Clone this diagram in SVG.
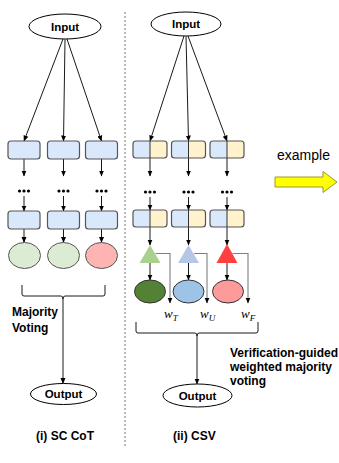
<svg xmlns="http://www.w3.org/2000/svg" width="339" height="463" viewBox="0 0 339 463">
<defs>
<marker id="ah" markerWidth="6" markerHeight="6" refX="5.5" refY="3" orient="auto" markerUnits="userSpaceOnUse">
<path d="M0,0.5 L6,3 L0,5.5 z" fill="#000"/>
</marker>
</defs>
<style>
.t{font-family:"Liberation Sans",Arial,sans-serif;font-weight:bold;font-size:11.5px;fill:#000}
.t2{font-size:12px}
.n{fill:#fff;stroke:#000;stroke-width:1}
.bx{fill:#dae8fc;stroke:#555;stroke-width:1.2}
.yh{fill:#fff2cc}
.c{fill:none;stroke:#000;stroke-width:0.9}
.g{fill:none;stroke:#7f7f7f;stroke-width:1.1}
.w{font-family:"Liberation Serif","Times New Roman",serif;font-style:italic;font-size:13px}
.s{font-size:9px}
</style>
<rect width="339" height="463" fill="#fff"/>
<line x1="125" y1="12" x2="125" y2="446" stroke="#666" stroke-width="0.9" stroke-dasharray="2,2"/>

<g id="connectors">
<line class="c" x1="63" y1="39" x2="24" y2="141" marker-end="url(#ah)"/>
<line class="c" x1="65" y1="39.5" x2="63.5" y2="141" marker-end="url(#ah)"/>
<line class="c" x1="67" y1="39" x2="101.5" y2="141" marker-end="url(#ah)"/>
<line class="c" x1="24" y1="159" x2="24" y2="176" marker-end="url(#ah)"/>
<line class="c" x1="63.5" y1="159" x2="63.5" y2="176" marker-end="url(#ah)"/>
<line class="c" x1="101.5" y1="159" x2="101.5" y2="176" marker-end="url(#ah)"/>
<line class="c" x1="24" y1="196" x2="24" y2="211" marker-end="url(#ah)"/>
<line class="c" x1="63.5" y1="196" x2="63.5" y2="211" marker-end="url(#ah)"/>
<line class="c" x1="101.5" y1="196" x2="101.5" y2="211" marker-end="url(#ah)"/>
<line class="c" x1="24" y1="229" x2="24" y2="242.5" marker-end="url(#ah)"/>
<line class="c" x1="63.5" y1="229" x2="63.5" y2="242.5" marker-end="url(#ah)"/>
<line class="c" x1="101.5" y1="229" x2="101.5" y2="242.5" marker-end="url(#ah)"/>
<path class="c" d="M22,285 L22,294 Q22,296 24,296 L61,296 Q63,296 63,299 Q63,296 65,296 L103,296 Q105,296 105,294 L105,285"/>
<line class="c" x1="63" y1="299" x2="63" y2="383.5" marker-end="url(#ah)"/>

<line class="c" x1="184" y1="36" x2="150" y2="141" marker-end="url(#ah)"/>
<line class="c" x1="186" y1="36.5" x2="188.5" y2="141" marker-end="url(#ah)"/>
<line class="c" x1="188" y1="36" x2="227" y2="141" marker-end="url(#ah)"/>
<line class="c" x1="150" y1="158" x2="150" y2="176" marker-end="url(#ah)"/>
<line class="c" x1="188.5" y1="158" x2="188.5" y2="176" marker-end="url(#ah)"/>
<line class="c" x1="227" y1="158" x2="227" y2="176" marker-end="url(#ah)"/>
<line class="c" x1="150" y1="197" x2="150" y2="210" marker-end="url(#ah)"/>
<line class="c" x1="188.5" y1="197" x2="188.5" y2="210" marker-end="url(#ah)"/>
<line class="c" x1="227" y1="197" x2="227" y2="210" marker-end="url(#ah)"/>
<line class="c" x1="150" y1="227" x2="150" y2="245" marker-end="url(#ah)"/>
<line class="c" x1="188.5" y1="227" x2="188.5" y2="245" marker-end="url(#ah)"/>
<line class="c" x1="227" y1="227" x2="227" y2="245" marker-end="url(#ah)"/>
<line class="c" x1="150" y1="263" x2="150" y2="280" marker-end="url(#ah)"/>
<line class="c" x1="188.5" y1="263" x2="188.5" y2="280" marker-end="url(#ah)"/>
<line class="c" x1="227" y1="263" x2="227" y2="280" marker-end="url(#ah)"/>
<path class="g" d="M155.5,253.5 L170,253.5 L170,303" marker-end="url(#ah)"/>
<path class="g" d="M194,253.5 L207,253.5 L207,303" marker-end="url(#ah)"/>
<path class="g" d="M232.5,253.5 L248,253.5 L248,303" marker-end="url(#ah)"/>
<path class="c" d="M136,322 L136,331 Q136,333 138,333 L195,333 Q197,333 197,336 Q197,333 199,333 L256,333 Q258,333 258,331 L258,322"/>
<line class="c" x1="197" y1="336" x2="197" y2="384" marker-end="url(#ah)"/>
</g>

<g id="input-left"><ellipse class="n" cx="65" cy="26.5" rx="36" ry="12.5"/><text class="t" x="65" y="30.5" text-anchor="middle">Input</text></g>
<g id="input-right"><ellipse class="n" cx="186" cy="24" rx="35" ry="12"/><text class="t" x="186" y="28" text-anchor="middle">Input</text></g>

<g id="l-box1a"><rect class="bx" x="8" y="141" width="32" height="18" rx="3"/></g>
<g id="l-box2a"><rect class="bx" x="47.5" y="141" width="32" height="18" rx="3"/></g>
<g id="l-box3a"><rect class="bx" x="85.5" y="141" width="32" height="18" rx="3"/></g>
<g id="l-dots" fill="#000">
<circle cx="19.5" cy="191" r="1.6"/><circle cx="24" cy="191" r="1.6"/><circle cx="28.5" cy="191" r="1.6"/>
<circle cx="59" cy="191" r="1.6"/><circle cx="63.5" cy="191" r="1.6"/><circle cx="68" cy="191" r="1.6"/>
<circle cx="97" cy="191" r="1.6"/><circle cx="101.5" cy="191" r="1.6"/><circle cx="106" cy="191" r="1.6"/>
</g>
<g id="l-box1b"><rect class="bx" x="8" y="211" width="32" height="18" rx="3"/></g>
<g id="l-box2b"><rect class="bx" x="47.5" y="211" width="32" height="18" rx="3"/></g>
<g id="l-box3b"><rect class="bx" x="85.5" y="211" width="32" height="18" rx="3"/></g>
<g id="l-ans1"><ellipse cx="24.5" cy="255.5" rx="16" ry="13" fill="#dcebd3" stroke="#555" stroke-width="1"/></g>
<g id="l-ans2"><ellipse cx="63.5" cy="255.5" rx="16" ry="13" fill="#dcebd3" stroke="#555" stroke-width="1"/></g>
<g id="l-ans3"><ellipse cx="101.5" cy="255.5" rx="16" ry="13" fill="#ffb4b4" stroke="#555" stroke-width="1"/></g>

<g id="r-box1a"><rect x="133" y="141" width="17" height="17" class="bx" style="stroke:none"/><rect x="150" y="141" width="17" height="17" class="yh"/><rect x="133" y="141" width="34" height="17" rx="3" fill="none" stroke="#555" stroke-width="1.2"/><line x1="150" y1="141" x2="150" y2="158" stroke="#333" stroke-width="1"/></g>
<g id="r-box2a"><rect x="171.5" y="141" width="17" height="17" class="bx" style="stroke:none"/><rect x="188.5" y="141" width="17" height="17" class="yh"/><rect x="171.5" y="141" width="34" height="17" rx="3" fill="none" stroke="#555" stroke-width="1.2"/><line x1="188.5" y1="141" x2="188.5" y2="158" stroke="#333" stroke-width="1"/></g>
<g id="r-box3a"><rect x="210" y="141" width="17" height="17" class="bx" style="stroke:none"/><rect x="227" y="141" width="17" height="17" class="yh"/><rect x="210" y="141" width="34" height="17" rx="3" fill="none" stroke="#555" stroke-width="1.2"/><line x1="227" y1="141" x2="227" y2="158" stroke="#333" stroke-width="1"/></g>
<g id="r-dots" fill="#000">
<circle cx="145.5" cy="192" r="1.6"/><circle cx="150" cy="192" r="1.6"/><circle cx="154.5" cy="192" r="1.6"/>
<circle cx="184" cy="192" r="1.6"/><circle cx="188.5" cy="192" r="1.6"/><circle cx="193" cy="192" r="1.6"/>
<circle cx="222.5" cy="192" r="1.6"/><circle cx="227" cy="192" r="1.6"/><circle cx="231.5" cy="192" r="1.6"/>
</g>
<g id="r-box1b"><rect x="133" y="210" width="17" height="17" class="bx" style="stroke:none"/><rect x="150" y="210" width="17" height="17" class="yh"/><rect x="133" y="210" width="34" height="17" rx="3" fill="none" stroke="#555" stroke-width="1.2"/><line x1="150" y1="210" x2="150" y2="227" stroke="#333" stroke-width="1"/></g>
<g id="r-box2b"><rect x="171.5" y="210" width="17" height="17" class="bx" style="stroke:none"/><rect x="188.5" y="210" width="17" height="17" class="yh"/><rect x="171.5" y="210" width="34" height="17" rx="3" fill="none" stroke="#555" stroke-width="1.2"/><line x1="188.5" y1="210" x2="188.5" y2="227" stroke="#333" stroke-width="1"/></g>
<g id="r-box3b"><rect x="210" y="210" width="17" height="17" class="bx" style="stroke:none"/><rect x="227" y="210" width="17" height="17" class="yh"/><rect x="210" y="210" width="34" height="17" rx="3" fill="none" stroke="#555" stroke-width="1.2"/><line x1="227" y1="210" x2="227" y2="227" stroke="#333" stroke-width="1"/></g>

<g id="r-ver1"><polygon points="150,245 139.5,263 160.5,263" fill="#a9d18e"/></g>
<g id="r-ver2"><polygon points="188.5,245 178,263 199,263" fill="#b4c7e7"/></g>
<g id="r-ver3"><polygon points="227,244 216.5,263 237.5,263" fill="#ff4040"/></g>
<g id="r-ans1"><ellipse cx="150" cy="291.5" rx="15.5" ry="11.5" fill="#548235" stroke="#333" stroke-width="1"/></g>
<g id="r-ans2"><ellipse cx="188.5" cy="291.5" rx="15.5" ry="11.5" fill="#9dc3e6" stroke="#333" stroke-width="1"/></g>
<g id="r-ans3"><ellipse cx="228" cy="291.5" rx="15.5" ry="11.5" fill="#ff9a9a" stroke="#333" stroke-width="1"/></g>

<text class="w" x="164" y="318">w<tspan class="s" dy="2.5">T</tspan></text>
<text class="w" x="200" y="318">w<tspan class="s" dy="2.5">U</tspan></text>
<text class="w" x="241" y="318">w<tspan class="s" dy="2.5">F</tspan></text>

<text class="t t2" x="12" y="316">Majority</text>
<text class="t t2" x="12" y="332">Voting</text>
<text class="t t2" x="230" y="357">Verification-guided</text>
<text class="t t2" x="230" y="371">weighted majority</text>
<text class="t t2" x="230" y="385">voting</text>

<g id="output-left"><ellipse class="n" cx="63.5" cy="394" rx="33" ry="10.5"/><text class="t" x="63.5" y="398" text-anchor="middle">Output</text></g>
<g id="output-right"><ellipse class="n" cx="197.5" cy="395.5" rx="34.5" ry="11.5"/><text class="t" x="197.5" y="399.5" text-anchor="middle">Output</text></g>

<text class="t t2" x="36" y="440">(i) SC CoT</text>
<text class="t t2" x="173" y="440">(ii) CSV</text>

<text x="277" y="160" font-family="'Liberation Sans',Arial,sans-serif" font-size="14px">example</text>
<polygon points="275,177 323,177 323,171.5 337,182 323,192.5 323,187 275,187" fill="#ffff00" stroke="#9a9a2a" stroke-width="1"/>
</svg>
